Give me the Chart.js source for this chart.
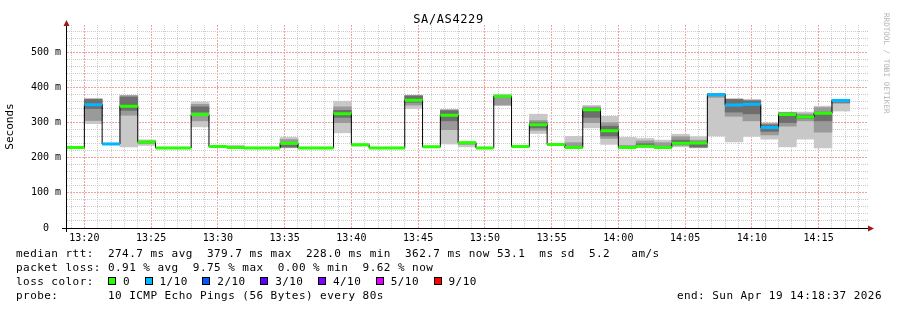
<!DOCTYPE html>
<html>
<head>
<meta charset="utf-8">
<script src="https://cdn.jsdelivr.net/npm/chart.js@4/dist/chart.umd.min.js"></script>
<style>
  html, body { margin: 0; padding: 0; background: #fff; }
  #wrap { position: relative; width: 897px; height: 310px; overflow: hidden; }
  #chart { position: absolute; left: 0; top: 0; }
  .txt { position: absolute; font-family: 'DejaVu Sans Mono', monospace; color: #000; white-space: pre; }
  #title { left: 0; width: 897px; top: 12px; text-align: center; font-size: 12px; line-height: 14px; letter-spacing: 0.6px; }
  #legend { left: 16px; top: 247px; font-size: 11px; line-height: 14px; letter-spacing: 0.45px; }
  #legend div { height: 14px; }
  #end { right: 15px; top: 289px; font-size: 11px; line-height: 14px; letter-spacing: 0.45px; }
  #mark { left: 882px; top: 13px; font-size: 7.6px; line-height: 8px; writing-mode: vertical-rl; color: #b4b4b4; }
  .sq { display: inline-block; width: 6px; height: 6px; border: 1px solid #000; margin-right: 7px; }
  .lab { margin-right: 14.5px; }
</style>
</head>
<body>
<div id="wrap">
  <canvas id="chart" width="897" height="310"></canvas>
  <div id="title" class="txt">SA/AS4229</div>
  <div id="mark" class="txt">RRDTOOL / TOBI OETIKER</div>
  <div id="legend" class="txt"><div>median rtt:  274.7 ms avg  379.7 ms max  228.0 ms min  362.7 ms now 53.1  ms sd  5.2   am/s</div><div>packet loss: 0.91 % avg  9.75 % max  0.00 % min  9.62 % now</div><div id="lossline">loss color:  </div><div>probe:       10 ICMP Echo Pings (56 Bytes) every 80s</div></div>
  <div id="end" class="txt">end: Sun Apr 19 14:18:37 2026</div>
</div>
<script>
// time in minutes after 13:00, one bucket = 80 s
const bucketStart = 18 + 40 / 60   // 13:18:40
const bucketLen = 80 / 60
const viewStart = 18.7
const viewEnd = 78.7

const timeLabels = ['13:20', '13:25', '13:30', '13:35', '13:40', '13:45', '13:50', '13:55', '14:00', '14:05', '14:10', '14:15']
const rttMajor = [0, 100, 200, 300, 400, 500]
const rttLabels = ['0', '100 m', '200 m', '300 m', '400 m', '500 m']

const lossLabels = ['0', '1/10', '2/10', '3/10', '4/10', '5/10', '9/10']
const lossColors = ['#26ff00', '#00b8ff', '#0059ff', '#5e00ff', '#7e00ff', '#dd00ff', '#ff0000']

// median rtt per bucket (ms)
const medians = [229, 351, 239, 347, 245, 228, 228, 323, 232, 229,
  228, 228, 241, 228, 228, 325, 237, 228, 228, 364,
  231, 321, 243, 228, 375, 232, 294, 238, 229, 337,
  277, 229, 233, 229, 241, 242, 379.7, 350, 352, 286,
  323, 316, 327, 362.7]
// lost pings out of 10
const lossTenths = [0, 1, 1, 0, 0, 0, 0, 0, 0, 0,
  0, 0, 0, 0, 0, 0, 0, 0, 0, 0,
  0, 0, 0, 0, 0, 0, 0, 0, 0, 0,
  0, 0, 0, 0, 0, 0, 1, 1, 1, 1,
  0, 0, 0, 1]

// smoke: spread of the single pings
const lightLo = [228, 297, 237, 231, 235, 228, 228, 288, 230, 228, 228, 228, 228, 228, 228, 271, 233, 228, 228, 340, 229, 239, 231, 228, 349, 230, 269, 236, 228, 285, 238, 228, 229, 228, 231, 228, 262, 245, 261, 253, 231, 253, 228, 333]
const lightHi = [231, 369, 242, 378, 251, 230, 230, 359, 234, 236, 230, 230, 258, 230, 230, 361, 240, 230, 230, 378, 233, 338, 246, 230, 381, 234, 324, 240, 261, 349, 318, 258, 255, 250, 267, 260, 383, 368, 366, 299, 330, 330, 347, 366]
const midLo = [null, 306, null, 321, 240, null, null, 305, null, null, null, null, 231, null, null, 300, null, null, null, 350, null, 280, 238, null, 350, null, 278, null, 229, 300, 255, 228, 231, 229, 235, 229, 372, 318, 305, 265, 290, 305, 273, 355]
const midHi = [null, 367, null, 377, 248, null, null, 352, null, null, null, null, 252, null, null, 345, null, null, null, 377, null, 336, 244, null, 376, null, 306, null, 243, 345, 300, 235, 248, 243, 260, 250, 382, 367, 364, 297, 329, 325, 343, 366]
const darkLo = [null, 340, null, 335, null, null, null, 330, null, null, null, null, 230, null, null, 315, null, null, null, 358, null, 305, null, null, null, null, 285, null, null, 315, 262, null, 232, null, 238, 231, 377, 330, 325, 275, 300, 312, 305, 358]
const darkHi = [null, 366, null, 373, null, null, null, 345, null, null, null, null, 236, null, null, 335, null, null, null, 376, null, 334, null, null, null, null, 300, null, null, 340, 290, null, 240, null, 250, 245, 382, 366, 362, 294, 327, 320, 330, 366]

const t = i => bucketStart + i * bucketLen
const toMin = s => (parseInt(s.slice(0, 2)) - 13) * 60 + parseInt(s.slice(3))

function bars(lo, hi) {
  return lo.map((v, i) => ({ x: t(i) + bucketLen / 2, y: v === null ? null : [v, hi[i]] }))
}

function segments(tenths) {
  const pts = []
  medians.forEach((m, i) => {
    if (lossTenths[i] !== tenths) return
    pts.push({ x: t(i), y: m }, { x: t(i + 1), y: m }, { x: t(i + 1), y: null })
  })
  return pts
}

const stepLine = medians.map((m, i) => ({ x: t(i), y: m }))
stepLine.push({ x: t(medians.length), y: medians[medians.length - 1] })

const xTicks = []
for (let m = Math.ceil(viewStart); m <= viewEnd; m++) xTicks.push(m)
const yTicks = []
for (let v = 0; v <= 560; v += 20) yTicks.push(v)

const majorGrid = '#f2a0a0'
const minorGrid = '#cccccc'
const tickFont = { family: 'DejaVu Sans Mono', size: 10 }

const isMajorX = v => timeLabels.some(l => toMin(l) === v)
const isMajorY = v => rttMajor.includes(v)

// legend squares
const lossLine = document.getElementById('lossline')
lossLabels.forEach((lab, i) => {
  const sq = document.createElement('span')
  sq.className = 'sq'
  sq.style.background = lossColors[i]
  lossLine.appendChild(sq)
  const tx = document.createElement('span')
  tx.className = 'lab'
  tx.textContent = lab
  lossLine.appendChild(tx)
})

const axisArrows = {
  id: 'axisArrows',
  afterDraw(chart) {
    const { ctx, chartArea: a } = chart
    ctx.save()
    ctx.strokeStyle = '#000'
    ctx.lineWidth = 1
    ctx.beginPath()
    ctx.moveTo(a.left - 5, a.bottom + 0.5)
    ctx.lineTo(a.right, a.bottom + 0.5)
    ctx.moveTo(a.left - 0.5, a.bottom + 4)
    ctx.lineTo(a.left - 0.5, a.top + 1)
    ctx.stroke()
    ctx.fillStyle = '#9b1b1b'
    ctx.beginPath()
    ctx.moveTo(a.right + 6, a.bottom + 0.5)
    ctx.lineTo(a.right, a.bottom - 2.5)
    ctx.lineTo(a.right, a.bottom + 3.5)
    ctx.closePath()
    ctx.fill()
    ctx.beginPath()
    ctx.moveTo(a.left - 0.5, a.top - 5)
    ctx.lineTo(a.left - 3.5, a.top + 1)
    ctx.lineTo(a.left + 2.5, a.top + 1)
    ctx.closePath()
    ctx.fill()
    ctx.restore()
  }
}

new Chart(document.getElementById('chart'), {
  type: 'line',
  data: {
    datasets: [
      { type: 'bar', stack: 'smoke', data: bars(lightLo, lightHi), backgroundColor: '#c8c8c8', order: 5 },
      { type: 'bar', stack: 'smoke', data: bars(midLo, midHi), backgroundColor: '#9a9a9a', order: 4 },
      { type: 'bar', stack: 'smoke', data: bars(darkLo, darkHi), backgroundColor: '#6e6e6e', order: 3 },
      { data: stepLine, borderColor: '#000', borderWidth: 1, stepped: true, order: 2 },
      { data: segments(0), borderColor: lossColors[0], borderWidth: 3, order: 1 },
      { data: segments(1), borderColor: lossColors[1], borderWidth: 3, order: 1 }
    ]
  },
  options: {
    responsive: false,
    animation: false,
    events: [],
    layout: { padding: { left: 0, right: 29, top: 25, bottom: 0 } },
    datasets: {
      bar: { barThickness: 'flex', barPercentage: 1, categoryPercentage: 1, borderWidth: 0 },
      line: { fill: false, spanGaps: false, tension: 0, borderCapStyle: 'butt' }
    },
    elements: { point: { radius: 0 } },
    plugins: {
      legend: { display: false },
      tooltip: { enabled: false },
      title: { display: false }
    },
    scales: {
      x: {
        type: 'linear',
        min: viewStart,
        max: viewEnd,
        offset: false,
        afterFit: s => { s.height = 82 },
        afterBuildTicks: s => { s.ticks = xTicks.map(v => ({ value: v })) },
        grid: {
          offset: false,
          drawTicks: false,
          color: c => (c.tick && isMajorX(c.tick.value)) ? majorGrid : minorGrid
        },
        border: { display: false, dash: c => (c.tick && isMajorX(c.tick.value)) ? [2, 1] : [1, 1] },
        ticks: {
          autoSkip: false,
          maxRotation: 0,
          padding: 4,
          color: '#000',
          font: tickFont,
          callback: v => timeLabels.find(l => toMin(l) === v) || ''
        }
      },
      y: {
        type: 'linear',
        stacked: false,
        min: 0,
        max: 578,
        afterFit: s => { s.width = 67 },
        afterBuildTicks: s => { s.ticks = yTicks.map(v => ({ value: v })) },
        grid: {
          drawTicks: false,
          color: c => (c.tick && isMajorY(c.tick.value)) ? majorGrid : minorGrid
        },
        border: { display: false, dash: c => (c.tick && isMajorY(c.tick.value)) ? [2, 1] : [1, 1] },
        ticks: {
          autoSkip: false,
          padding: 6,
          color: '#000',
          font: tickFont,
          callback: v => {
            const i = rttMajor.indexOf(v)
            if (i < 0) return ''
            const lab = rttLabels[i]
            return lab.length === 1 ? lab + '  ' : lab
          }
        },
        title: {
          display: true,
          text: 'Seconds',
          color: '#000',
          padding: { top: 3.5, bottom: 0 },
          font: { family: 'DejaVu Sans Mono', size: 11 }
        }
      }
    }
  },
  plugins: [axisArrows]
})
</script>
</body>
</html>
